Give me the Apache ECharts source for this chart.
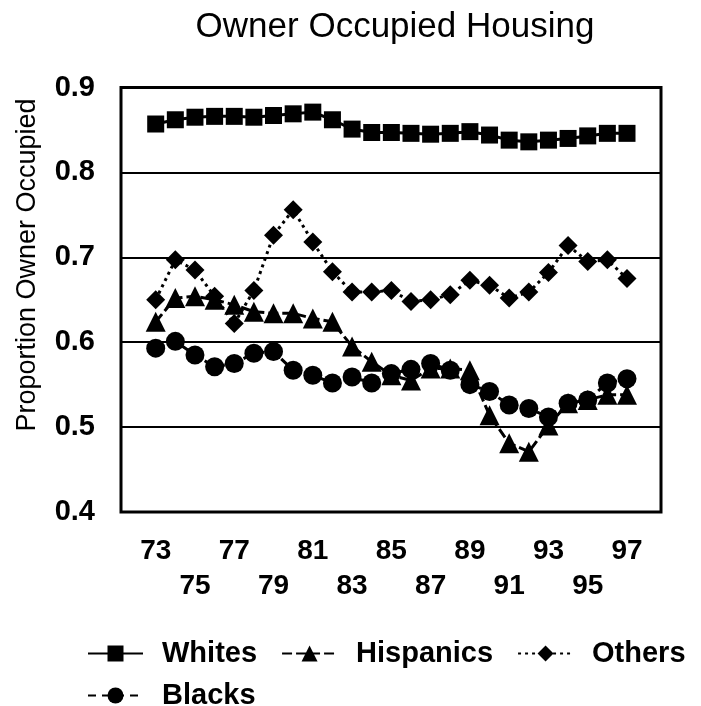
<!DOCTYPE html>
<html>
<head>
<meta charset="utf-8">
<script src="https://cdn.jsdelivr.net/npm/echarts@6/dist/echarts.min.js"></script>
<style>
  html, body { margin: 0; padding: 0; background: #fff; }
  #chart { width: 701px; height: 706px; }
</style>
</head>
<body>
<div id="chart"></div>
<script>
// years 1973..1997, shown as two-digit labels
const years = ['73', '74', '75', '76', '77', '78', '79', '80', '81', '82', '83', '84', '85',
  '86', '87', '88', '89', '90', '91', '92', '93', '94', '95', '96', '97']

const whites = [0.857, 0.862, 0.865, 0.866, 0.866, 0.865, 0.867, 0.869, 0.871, 0.862, 0.851, 0.847, 0.847,
  0.846, 0.845, 0.846, 0.848, 0.844, 0.838, 0.836, 0.838, 0.840, 0.843, 0.846, 0.846]
const hispanics = [0.624, 0.652, 0.654, 0.650, 0.644, 0.636, 0.634, 0.634, 0.628, 0.624, 0.595, 0.577, 0.561,
  0.555, 0.569, 0.569, 0.567, 0.514, 0.481, 0.471, 0.502, 0.528, 0.532, 0.538, 0.538]
const others = [0.650, 0.697, 0.685, 0.654, 0.622, 0.661, 0.726, 0.756, 0.718, 0.683, 0.659, 0.659, 0.661,
  0.648, 0.650, 0.656, 0.673, 0.667, 0.652, 0.659, 0.682, 0.714, 0.695, 0.697, 0.675]
const blacks = [0.593, 0.601, 0.585, 0.571, 0.575, 0.587, 0.589, 0.567, 0.561, 0.552, 0.559, 0.552, 0.563,
  0.568, 0.575, 0.567, 0.550, 0.542, 0.526, 0.522, 0.512, 0.528, 0.532, 0.552, 0.557]

const FONT = '"Liberation Sans", Arial, sans-serif'

const chart = echarts.init(document.getElementById('chart'))

function lineSeries(name, data, symbol, size, dash) {
  return {
    name: name,
    type: 'line',
    xAxisIndex: 1,
    yAxisIndex: 1,
    data: data,
    symbol: symbol,
    symbolSize: size,
    showSymbol: true,
    showAllSymbol: true,
    itemStyle: { color: '#000' },
    lineStyle: { color: '#000', width: 3, type: dash },
    animation: false
  }
}

// shared legend look, two legends so "Blacks" sits on its own row
const legendBase = {
  itemWidth: 55,
  itemHeight: 20,
  itemGap: 24,
  textStyle: { fontFamily: FONT, fontSize: 29, fontWeight: 'bold', color: '#000', padding: [0, 0, 0, 14] }
}

chart.setOption({
  backgroundColor: '#fff',
  title: {
    text: 'Owner Occupied Housing',
    left: 390,
    textAlign: 'center',
    top: 5,
    textStyle: { fontFamily: FONT, fontSize: 35, fontWeight: 'normal', color: '#000' }
  },
  graphic: [{
    type: 'text',
    x: 28,
    y: 265,
    rotation: Math.PI / 2,
    style: {
      text: 'Proportion Owner Occupied',
      font: '27px ' + FONT,
      fill: '#000',
      align: 'center',
      verticalAlign: 'middle'
    }
  }],
  legend: [
    Object.assign({ left: 82, top: 634, data: ['Whites', 'Hispanics', 'Others'] }, legendBase),
    Object.assign({ left: 82, top: 676, data: ['Blacks'] }, legendBase)
  ],
  grid: [
    { left: 121, right: 40, top: 87.5, bottom: 194, show: true, borderColor: '#000', borderWidth: 3 },
    { left: 155.7, right: 74, top: 87.5, bottom: 194 }
  ],
  xAxis: [
    { gridIndex: 0, type: 'value', min: 0, max: 1, show: false },
    {
      gridIndex: 1,
      type: 'category',
      data: years,
      boundaryGap: false,
      axisLine: { show: false },
      axisTick: { show: false },
      axisLabel: {
        interval: 1,
        margin: 22,
        fontFamily: FONT,
        fontSize: 28,
        fontWeight: 'bold',
        color: '#000',
        lineHeight: 35,
        formatter: (v, i) => (i % 4 === 0 ? v : '\n' + v)
      }
    }
  ],
  yAxis: [
    {
      gridIndex: 0,
      type: 'value',
      min: 0.4,
      max: 0.9,
      interval: 0.1,
      axisLine: { show: false },
      axisTick: { show: false },
      splitLine: { lineStyle: { color: '#000', width: 2 } },
      axisLabel: {
        margin: 26,
        fontFamily: FONT,
        fontSize: 29,
        fontWeight: 'bold',
        color: '#000',
        formatter: v => v.toFixed(1)
      }
    },
    { gridIndex: 1, type: 'value', min: 0.4, max: 0.9, show: false }
  ],
  series: [
    lineSeries('Whites', whites, 'rect', 17, 'solid'),
    lineSeries('Hispanics', hispanics, 'triangle', 20, [10, 4]),
    lineSeries('Others', others, 'diamond', 19, [3, 4]),
    lineSeries('Blacks', blacks, 'circle', 19, [8, 6])
  ]
})
</script>
</body>
</html>
